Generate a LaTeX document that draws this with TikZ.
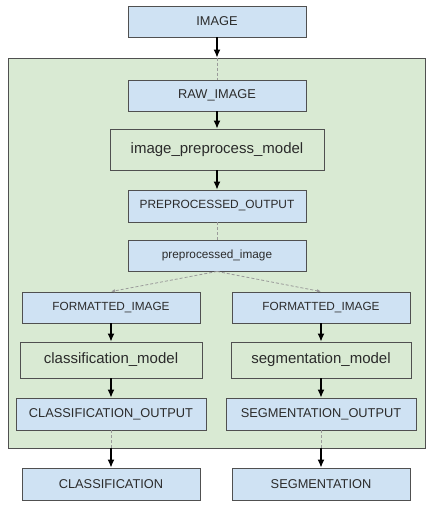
\documentclass[tikz,border=0pt]{standalone}
\usepackage{fontspec}
\setmainfont{Liberation Sans}
\usetikzlibrary{calc,arrows.meta}
\definecolor{tensorblue}{HTML}{CFE2F3}
\definecolor{modelgreen}{HTML}{D9EAD3}
\definecolor{boxline}{HTML}{505050}
\definecolor{linkgrey}{HTML}{9A9A9A}
\definecolor{textgrey}{HTML}{2B2B2B}

\begin{document}
\begin{tikzpicture}[x=1pt,y=-1pt,
  tensor/.style={draw=boxline,fill=tensorblue,rectangle,line width=0.9pt,minimum width=178pt,minimum height=31pt,inner sep=0pt,text=textgrey,font=\fontsize{12.8}{14}\selectfont},
  model/.style={draw=boxline,fill=modelgreen,rectangle,line width=0.9pt,minimum height=36pt,inner sep=0pt,text=textgrey,font=\fontsize{15}{17}\selectfont},
  flow/.style={-{Latex[length=8pt,width=7pt]},line width=1.2pt},
  link/.style={draw=linkgrey,dash pattern=on 3pt off 2pt,line width=0.8pt}]
\useasboundingbox (0,0) rectangle (434,507);

\draw node [draw=boxline,fill=modelgreen,line width=0.9pt,minimum width=417.5pt,minimum height=390pt] (pipeline) at (216.75,253) {};

\draw node [tensor] (image) at (217,21.5) {IMAGE};
\draw node [tensor] (raw) at (217,95.5) {RAW\_IMAGE};
\draw node [model,minimum width=214pt,minimum height=41pt] (preprocessmodel) at (217,149.5) {image\_preprocess\_model};
\draw node [tensor,minimum height=32pt,font=\fontsize{11.9}{13}\selectfont] (preprocessedoutput) at (217,206) {PREPROCESSED\_OUTPUT};
\draw node [tensor,font=\fontsize{11.8}{13}\selectfont] (preprocessedimage) at (217,255.5) {preprocessed\_image};

\draw node [tensor,font=\fontsize{11.8}{13}\selectfont] (fmtleft) at (111,307.5) {FORMATTED\_IMAGE};
\draw node [model,minimum width=182pt] (classmodel) at (111,360) {classification\_model};
\draw node [tensor,minimum width=190pt,minimum height=32pt] (classout) at (111,414) {CLASSIFICATION\_OUTPUT};
\draw node [tensor,minimum height=32pt] (classification) at (111,484) {CLASSIFICATION};

\draw node [tensor,font=\fontsize{11.8}{13}\selectfont] (fmtright) at (321,307.5) {FORMATTED\_IMAGE};
\draw node [model,minimum width=180pt] (segmodel) at (321,360) {segmentation\_model};
\draw node [tensor,minimum width=190pt,minimum height=32pt] (segout) at (321,414) {SEGMENTATION\_OUTPUT};
\draw node [tensor,minimum height=32pt] (segmentation) at (321,484) {SEGMENTATION};

\draw[flow] (image) -- (image |- pipeline.north);
\draw[link] (image |- pipeline.north) -- (raw);
\draw[flow] (raw) -- (preprocessmodel);
\draw[flow] (preprocessmodel) -- (preprocessedoutput);
\draw[link] (preprocessedoutput) -- (preprocessedimage);
\draw[link,-{Latex[length=4pt,width=3.5pt]}] (preprocessedimage.south) -- (fmtleft.north);
\draw[link,-{Latex[length=4pt,width=3.5pt]}] (preprocessedimage.south) -- (fmtright.north);

\draw[flow] (fmtleft) -- (classmodel);
\draw[flow] (classmodel) -- (classout);
\draw[link] (classout) -- (classout |- pipeline.south);
\draw[flow] (classout |- pipeline.south) -- (classification);

\draw[flow] (fmtright) -- (segmodel);
\draw[flow] (segmodel) -- (segout);
\draw[link] (segout) -- (segout |- pipeline.south);
\draw[flow] (segout |- pipeline.south) -- (segmentation);

\end{tikzpicture}
\end{document}
